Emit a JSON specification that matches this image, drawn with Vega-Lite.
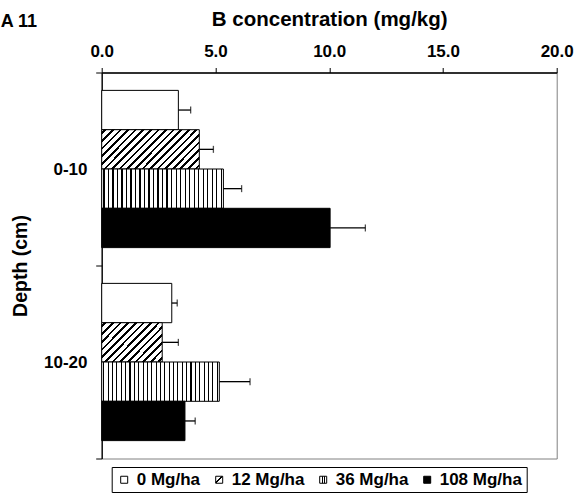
{
  "$schema": "https://vega.github.io/schema/vega-lite/v6.json",
  "width": 455,
  "height": 386,
  "autosize": {"type": "none"},
  "padding": {"left": 101.7, "top": 72.5, "right": 29.3, "bottom": 36.5},
  "background": "white",
  "config": {
    "font": "Liberation Sans",
    "view": {"stroke": "#808080", "strokeWidth": 1}
  },
  "title": {
    "text": "A 11",
    "anchor": "start",
    "frame": "group",
    "dx": -101,
    "offset": -35,
    "baseline": "alphabetic",
    "fontSize": 18,
    "fontWeight": "bold",
    "color": "black"
  },
  "data": {
    "values": [
      {"depth": "0-10", "trt": "0 Mg/ha", "conc": 3.37, "hi": 3.91},
      {"depth": "0-10", "trt": "12 Mg/ha", "conc": 4.29, "hi": 4.91},
      {"depth": "0-10", "trt": "36 Mg/ha", "conc": 5.35, "hi": 6.15},
      {"depth": "0-10", "trt": "108 Mg/ha", "conc": 10.04, "hi": 11.59},
      {"depth": "10-20", "trt": "0 Mg/ha", "conc": 3.08, "hi": 3.32},
      {"depth": "10-20", "trt": "12 Mg/ha", "conc": 2.66, "hi": 3.37},
      {"depth": "10-20", "trt": "36 Mg/ha", "conc": 5.17, "hi": 6.52},
      {"depth": "10-20", "trt": "108 Mg/ha", "conc": 3.66, "hi": 4.11}
    ]
  },
  "encoding": {
    "y": {
      "field": "depth",
      "type": "nominal",
      "sort": ["0-10", "10-20"],
      "scale": {"paddingInner": 0, "paddingOuter": 0},
      "axis": {
        "title": "Depth (cm)",
        "tickBand": "extent",
        "labelAngle": 0,
        "labelFontSize": 17,
        "labelFontWeight": "bold",
        "labelColor": "black",
        "labelPadding": 8.7,
        "titleFontSize": 19.5,
        "titleFontWeight": "bold",
        "titleColor": "black",
        "titlePadding": 13,
        "domainColor": "black",
        "domainWidth": 1.3,
        "tickColor": "black",
        "tickSize": 6,
        "tickWidth": 1
      }
    },
    "yOffset": {
      "field": "trt",
      "type": "nominal",
      "sort": ["0 Mg/ha", "12 Mg/ha", "36 Mg/ha", "108 Mg/ha"],
      "scale": {"paddingInner": 0, "paddingOuter": 0.455}
    }
  },
  "layer": [
    {
      "mark": {"type": "bar", "stroke": "black", "strokeWidth": 1},
      "encoding": {
        "x": {
          "field": "conc",
          "type": "quantitative",
          "title": "B concentration (mg/kg)",
          "scale": {"domain": [0, 20], "nice": false},
          "axis": {
            "orient": "top",
            "values": [0, 5, 10, 15, 20],
            "format": ".1f",
            "grid": false,
            "labelFontSize": 17,
            "labelFontWeight": "bold",
            "labelColor": "black",
            "labelPadding": 7,
            "labelFlush": false,
            "titleFontSize": 20.5,
            "titleFontWeight": "bold",
            "titleColor": "black",
            "titlePadding": 13,
            "domainColor": "black",
            "domainWidth": 1.3,
            "tickColor": "black",
            "tickSize": 5,
            "tickWidth": 1
          }
        },
        "fill": {
          "condition": [
            {"test": "datum.trt === '0 Mg/ha'", "value": "white"},
            {"test": "datum.trt === '12 Mg/ha' && datum.depth === '0-10'", "value": {
              "gradient": "linear", "x1": 0, "y1": 0, "x2": 1.207, "y2": 0.483,
              "stops": [
                {"offset": 0, "color": "white"},
                {"offset": 0.0181, "color": "white"}, {"offset": 0.0181, "color": "black"}, {"offset": 0.0375, "color": "black"}, {"offset": 0.0375, "color": "white"},
                {"offset": 0.0736, "color": "white"}, {"offset": 0.0736, "color": "black"}, {"offset": 0.0931, "color": "black"}, {"offset": 0.0931, "color": "white"},
                {"offset": 0.1292, "color": "white"}, {"offset": 0.1292, "color": "black"}, {"offset": 0.1486, "color": "black"}, {"offset": 0.1486, "color": "white"},
                {"offset": 0.1847, "color": "white"}, {"offset": 0.1847, "color": "black"}, {"offset": 0.2042, "color": "black"}, {"offset": 0.2042, "color": "white"},
                {"offset": 0.2403, "color": "white"}, {"offset": 0.2403, "color": "black"}, {"offset": 0.2597, "color": "black"}, {"offset": 0.2597, "color": "white"},
                {"offset": 0.2958, "color": "white"}, {"offset": 0.2958, "color": "black"}, {"offset": 0.3153, "color": "black"}, {"offset": 0.3153, "color": "white"},
                {"offset": 0.3514, "color": "white"}, {"offset": 0.3514, "color": "black"}, {"offset": 0.3708, "color": "black"}, {"offset": 0.3708, "color": "white"},
                {"offset": 0.4069, "color": "white"}, {"offset": 0.4069, "color": "black"}, {"offset": 0.4264, "color": "black"}, {"offset": 0.4264, "color": "white"},
                {"offset": 0.4625, "color": "white"}, {"offset": 0.4625, "color": "black"}, {"offset": 0.4819, "color": "black"}, {"offset": 0.4819, "color": "white"},
                {"offset": 0.5181, "color": "white"}, {"offset": 0.5181, "color": "black"}, {"offset": 0.5375, "color": "black"}, {"offset": 0.5375, "color": "white"},
                {"offset": 0.5736, "color": "white"}, {"offset": 0.5736, "color": "black"}, {"offset": 0.5931, "color": "black"}, {"offset": 0.5931, "color": "white"},
                {"offset": 0.6292, "color": "white"}, {"offset": 0.6292, "color": "black"}, {"offset": 0.6486, "color": "black"}, {"offset": 0.6486, "color": "white"},
                {"offset": 0.6847, "color": "white"}, {"offset": 0.6847, "color": "black"}, {"offset": 0.7042, "color": "black"}, {"offset": 0.7042, "color": "white"},
                {"offset": 0.7403, "color": "white"}, {"offset": 0.7403, "color": "black"}, {"offset": 0.7597, "color": "black"}, {"offset": 0.7597, "color": "white"},
                {"offset": 0.7958, "color": "white"}, {"offset": 0.7958, "color": "black"}, {"offset": 0.8153, "color": "black"}, {"offset": 0.8153, "color": "white"},
                {"offset": 0.8514, "color": "white"}, {"offset": 0.8514, "color": "black"}, {"offset": 0.8708, "color": "black"}, {"offset": 0.8708, "color": "white"},
                {"offset": 0.9069, "color": "white"}, {"offset": 0.9069, "color": "black"}, {"offset": 0.9264, "color": "black"}, {"offset": 0.9264, "color": "white"},
                {"offset": 0.9625, "color": "white"}, {"offset": 0.9625, "color": "black"}, {"offset": 0.9819, "color": "black"}, {"offset": 0.9819, "color": "white"},
                {"offset": 1, "color": "white"}
              ]
            }},
            {"test": "datum.trt === '12 Mg/ha'", "value": {
              "gradient": "linear", "x1": 0, "y1": 0, "x2": 1.163, "y2": 0.744,
              "stops": [
                {"offset": 0, "color": "white"},
                {"offset": 0.0250, "color": "white"}, {"offset": 0.0250, "color": "black"}, {"offset": 0.0519, "color": "black"}, {"offset": 0.0519, "color": "white"},
                {"offset": 0.1019, "color": "white"}, {"offset": 0.1019, "color": "black"}, {"offset": 0.1288, "color": "black"}, {"offset": 0.1288, "color": "white"},
                {"offset": 0.1788, "color": "white"}, {"offset": 0.1788, "color": "black"}, {"offset": 0.2058, "color": "black"}, {"offset": 0.2058, "color": "white"},
                {"offset": 0.2558, "color": "white"}, {"offset": 0.2558, "color": "black"}, {"offset": 0.2827, "color": "black"}, {"offset": 0.2827, "color": "white"},
                {"offset": 0.3327, "color": "white"}, {"offset": 0.3327, "color": "black"}, {"offset": 0.3596, "color": "black"}, {"offset": 0.3596, "color": "white"},
                {"offset": 0.4096, "color": "white"}, {"offset": 0.4096, "color": "black"}, {"offset": 0.4365, "color": "black"}, {"offset": 0.4365, "color": "white"},
                {"offset": 0.4865, "color": "white"}, {"offset": 0.4865, "color": "black"}, {"offset": 0.5135, "color": "black"}, {"offset": 0.5135, "color": "white"},
                {"offset": 0.5635, "color": "white"}, {"offset": 0.5635, "color": "black"}, {"offset": 0.5904, "color": "black"}, {"offset": 0.5904, "color": "white"},
                {"offset": 0.6404, "color": "white"}, {"offset": 0.6404, "color": "black"}, {"offset": 0.6673, "color": "black"}, {"offset": 0.6673, "color": "white"},
                {"offset": 0.7173, "color": "white"}, {"offset": 0.7173, "color": "black"}, {"offset": 0.7442, "color": "black"}, {"offset": 0.7442, "color": "white"},
                {"offset": 0.7942, "color": "white"}, {"offset": 0.7942, "color": "black"}, {"offset": 0.8212, "color": "black"}, {"offset": 0.8212, "color": "white"},
                {"offset": 0.8712, "color": "white"}, {"offset": 0.8712, "color": "black"}, {"offset": 0.8981, "color": "black"}, {"offset": 0.8981, "color": "white"},
                {"offset": 0.9481, "color": "white"}, {"offset": 0.9481, "color": "black"}, {"offset": 0.9750, "color": "black"}, {"offset": 0.9750, "color": "white"},
                {"offset": 1, "color": "white"}
              ]
            }},
            {"test": "datum.trt === '36 Mg/ha'", "value": {
              "gradient": "linear", "x1": 0, "y1": 0, "x2": 1, "y2": 0,
              "stops": [
                {"offset": 0, "color": "white"},
                {"offset": 0.0139, "color": "white"}, {"offset": 0.0139, "color": "black"}, {"offset": 0.0231, "color": "black"}, {"offset": 0.0231, "color": "white"},
                {"offset": 0.0509, "color": "white"}, {"offset": 0.0509, "color": "black"}, {"offset": 0.0602, "color": "black"}, {"offset": 0.0602, "color": "white"},
                {"offset": 0.0880, "color": "white"}, {"offset": 0.0880, "color": "black"}, {"offset": 0.0972, "color": "black"}, {"offset": 0.0972, "color": "white"},
                {"offset": 0.1250, "color": "white"}, {"offset": 0.1250, "color": "black"}, {"offset": 0.1343, "color": "black"}, {"offset": 0.1343, "color": "white"},
                {"offset": 0.1620, "color": "white"}, {"offset": 0.1620, "color": "black"}, {"offset": 0.1713, "color": "black"}, {"offset": 0.1713, "color": "white"},
                {"offset": 0.1991, "color": "white"}, {"offset": 0.1991, "color": "black"}, {"offset": 0.2083, "color": "black"}, {"offset": 0.2083, "color": "white"},
                {"offset": 0.2361, "color": "white"}, {"offset": 0.2361, "color": "black"}, {"offset": 0.2454, "color": "black"}, {"offset": 0.2454, "color": "white"},
                {"offset": 0.2731, "color": "white"}, {"offset": 0.2731, "color": "black"}, {"offset": 0.2824, "color": "black"}, {"offset": 0.2824, "color": "white"},
                {"offset": 0.3102, "color": "white"}, {"offset": 0.3102, "color": "black"}, {"offset": 0.3194, "color": "black"}, {"offset": 0.3194, "color": "white"},
                {"offset": 0.3472, "color": "white"}, {"offset": 0.3472, "color": "black"}, {"offset": 0.3565, "color": "black"}, {"offset": 0.3565, "color": "white"},
                {"offset": 0.3843, "color": "white"}, {"offset": 0.3843, "color": "black"}, {"offset": 0.3935, "color": "black"}, {"offset": 0.3935, "color": "white"},
                {"offset": 0.4213, "color": "white"}, {"offset": 0.4213, "color": "black"}, {"offset": 0.4306, "color": "black"}, {"offset": 0.4306, "color": "white"},
                {"offset": 0.4583, "color": "white"}, {"offset": 0.4583, "color": "black"}, {"offset": 0.4676, "color": "black"}, {"offset": 0.4676, "color": "white"},
                {"offset": 0.4954, "color": "white"}, {"offset": 0.4954, "color": "black"}, {"offset": 0.5046, "color": "black"}, {"offset": 0.5046, "color": "white"},
                {"offset": 0.5324, "color": "white"}, {"offset": 0.5324, "color": "black"}, {"offset": 0.5417, "color": "black"}, {"offset": 0.5417, "color": "white"},
                {"offset": 0.5694, "color": "white"}, {"offset": 0.5694, "color": "black"}, {"offset": 0.5787, "color": "black"}, {"offset": 0.5787, "color": "white"},
                {"offset": 0.6065, "color": "white"}, {"offset": 0.6065, "color": "black"}, {"offset": 0.6157, "color": "black"}, {"offset": 0.6157, "color": "white"},
                {"offset": 0.6435, "color": "white"}, {"offset": 0.6435, "color": "black"}, {"offset": 0.6528, "color": "black"}, {"offset": 0.6528, "color": "white"},
                {"offset": 0.6806, "color": "white"}, {"offset": 0.6806, "color": "black"}, {"offset": 0.6898, "color": "black"}, {"offset": 0.6898, "color": "white"},
                {"offset": 0.7176, "color": "white"}, {"offset": 0.7176, "color": "black"}, {"offset": 0.7269, "color": "black"}, {"offset": 0.7269, "color": "white"},
                {"offset": 0.7546, "color": "white"}, {"offset": 0.7546, "color": "black"}, {"offset": 0.7639, "color": "black"}, {"offset": 0.7639, "color": "white"},
                {"offset": 0.7917, "color": "white"}, {"offset": 0.7917, "color": "black"}, {"offset": 0.8009, "color": "black"}, {"offset": 0.8009, "color": "white"},
                {"offset": 0.8287, "color": "white"}, {"offset": 0.8287, "color": "black"}, {"offset": 0.8380, "color": "black"}, {"offset": 0.8380, "color": "white"},
                {"offset": 0.8657, "color": "white"}, {"offset": 0.8657, "color": "black"}, {"offset": 0.8750, "color": "black"}, {"offset": 0.8750, "color": "white"},
                {"offset": 0.9028, "color": "white"}, {"offset": 0.9028, "color": "black"}, {"offset": 0.9120, "color": "black"}, {"offset": 0.9120, "color": "white"},
                {"offset": 0.9398, "color": "white"}, {"offset": 0.9398, "color": "black"}, {"offset": 0.9491, "color": "black"}, {"offset": 0.9491, "color": "white"},
                {"offset": 0.9769, "color": "white"}, {"offset": 0.9769, "color": "black"}, {"offset": 0.9861, "color": "black"}, {"offset": 0.9861, "color": "white"},
                {"offset": 1, "color": "white"}
              ]
            }}
          ],
          "value": "black"
        }
      }
    },
    {
      "mark": {"type": "rule", "color": "black", "strokeWidth": 1.3},
      "encoding": {
        "x": {"field": "conc", "type": "quantitative", "title": "B concentration (mg/kg)"},
        "x2": {"field": "hi"}
      }
    },
    {
      "mark": {"type": "tick", "color": "black", "thickness": 1.3, "size": 7, "orient": "vertical"},
      "encoding": {
        "x": {"field": "hi", "type": "quantitative", "title": "B concentration (mg/kg)"}
      }
    },
    {
      "mark": {"type": "square", "opacity": 0, "size": 1},
      "encoding": {
        "x": {"field": "conc", "type": "quantitative", "title": "B concentration (mg/kg)"},
        "fill": {
          "field": "trt",
          "type": "nominal",
          "scale": {
            "domain": ["0 Mg/ha", "12 Mg/ha", "36 Mg/ha", "108 Mg/ha"],
            "range": [
              "white",
              {"expr": "{gradient: 'linear', x1: 0, y1: 0, x2: 1, y2: 1, stops: [{offset: 0, color: 'white'}, {offset: 0.43, color: 'white'}, {offset: 0.43, color: 'black'}, {offset: 0.57, color: 'black'}, {offset: 0.57, color: 'white'}, {offset: 1, color: 'white'}]}"},
              {"expr": "{gradient: 'linear', x1: 0, y1: 0, x2: 1, y2: 0, stops: [{offset: 0, color: 'white'}, {offset: 0.28, color: 'white'}, {offset: 0.28, color: 'black'}, {offset: 0.4, color: 'black'}, {offset: 0.4, color: 'white'}, {offset: 0.6, color: 'white'}, {offset: 0.6, color: 'black'}, {offset: 0.72, color: 'black'}, {offset: 0.72, color: 'white'}, {offset: 1, color: 'white'}]}"},
              "black"
            ]
          },
          "legend": {
            "orient": "none",
            "legendX": 10,
            "legendY": 394.5,
            "direction": "horizontal",
            "title": null,
            "strokeColor": "black",
            "fillColor": "white",
            "padding": 4,
            "symbolType": "square",
            "symbolSize": 49,
            "symbolOpacity": 1,
            "symbolStrokeWidth": 1,
            "symbolStrokeColor": "black",
            "labelFontSize": 17,
            "labelFontWeight": "bold",
            "labelColor": "black",
            "labelOffset": 4,
            "columnPadding": 10
          }
        }
      }
    }
  ]
}
